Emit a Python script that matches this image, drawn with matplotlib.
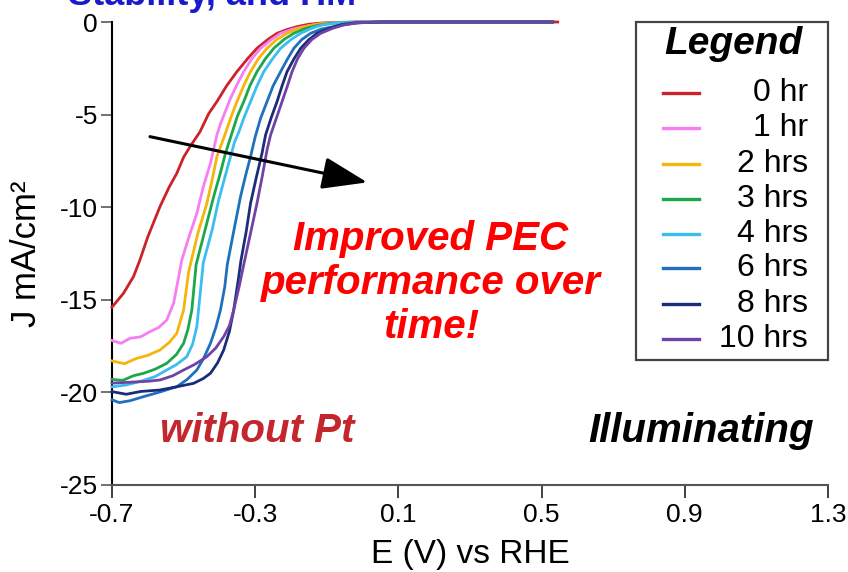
import matplotlib
matplotlib.use('Agg')
import matplotlib.pyplot as plt
from matplotlib.lines import Line2D
from matplotlib.patches import Rectangle

plt.rcParams['font.family'] = ['Liberation Sans', 'DejaVu Sans']

# ── J-V sweeps (E vs RHE in V, J in mA/cm²) ───────────────────────────
labels = ['0 hr', '1 hr', '2 hrs', '3 hrs', '4 hrs', '6 hrs', '8 hrs', '10 hrs']
colors = ['#cc2229', '#f77ef2', '#f5b50a', '#1ca84a', '#3cbdf0',
          '#1f70bd', '#1b2d78', '#7042a6']

E_0h = [-0.700, -0.668, -0.640, -0.622, -0.600, -0.566, -0.540, -0.519, -0.500,
        -0.482, -0.454, -0.430, -0.407, -0.380, -0.351, -0.320, -0.295, -0.265,
        -0.239, -0.210, -0.183, -0.150, -0.110, -0.060, 0.0, 0.2, 0.4, 0.545]
J_0h = [-15.40, -14.65, -13.75, -12.85, -11.60, -9.97, -8.90, -8.17, -7.30,
        -6.73, -5.92, -4.95, -4.30, -3.45, -2.68, -1.95, -1.42, -0.95,
        -0.61, -0.40, -0.25, -0.12, -0.05, -0.02, 0.0, 0.0, 0.0, 0.0]

E_1h = [-0.700, -0.675, -0.650, -0.620, -0.594, -0.570, -0.547, -0.528, -0.519,
        -0.505, -0.485, -0.463, -0.445, -0.425, -0.407, -0.397, -0.369, -0.350,
        -0.332, -0.310, -0.285, -0.255, -0.229, -0.195, -0.164, -0.130, -0.099,
        -0.050, 0.0, 0.2, 0.4, 0.53]
J_1h = [-17.20, -17.35, -17.08, -17.00, -16.72, -16.50, -16.09, -15.19, -14.29,
        -12.85, -11.60, -10.33, -8.90, -7.63, -6.10, -5.50, -4.12, -3.35,
        -2.68, -2.00, -1.42, -0.95, -0.61, -0.38, -0.25, -0.13, -0.07,
        -0.02, 0.0, 0.0, 0.0, 0.0]

E_2h = [-0.700, -0.665, -0.631, -0.600, -0.566, -0.540, -0.519, -0.500, -0.486,
        -0.460, -0.435, -0.420, -0.407, -0.383, -0.365, -0.351, -0.330, -0.313,
        -0.290, -0.267, -0.240, -0.211, -0.180, -0.150, -0.110, -0.060,
        0.0, 0.2, 0.4, 0.53]
J_2h = [-18.30, -18.45, -18.16, -18.00, -17.71, -17.30, -16.81, -15.55, -13.50,
        -11.40, -9.79, -8.50, -7.27, -6.00, -5.00, -4.30, -3.35, -2.68,
        -1.95, -1.42, -0.95, -0.61, -0.35, -0.20, -0.08, -0.02,
        0.0, 0.0, 0.0, 0.0]

E_3h = [-0.700, -0.670, -0.640, -0.612, -0.580, -0.547, -0.520, -0.500, -0.488,
        -0.477, -0.465, -0.441, -0.416, -0.398, -0.383, -0.365, -0.350, -0.332,
        -0.315, -0.295, -0.272, -0.248, -0.220, -0.192, -0.160, -0.130, -0.090,
        -0.040, 0.0, 0.2, 0.4, 0.53]
J_3h = [-19.30, -19.35, -19.10, -18.97, -18.75, -18.43, -17.95, -17.35, -16.60,
        -15.55, -13.10, -11.30, -9.43, -8.20, -7.09, -6.00, -5.10, -4.30,
        -3.45, -2.68, -2.00, -1.42, -0.95, -0.61, -0.35, -0.20, -0.07,
        -0.02, 0.0, 0.0, 0.0, 0.0]

E_4h = [-0.700, -0.660, -0.620, -0.580, -0.547, -0.520, -0.491, -0.475, -0.463,
        -0.445, -0.420, -0.402, -0.385, -0.369, -0.358, -0.346, -0.330, -0.313,
        -0.295, -0.276, -0.252, -0.229, -0.200, -0.173, -0.140, -0.110, -0.070,
        -0.020, 0.0, 0.2, 0.4, 0.53]
J_4h = [-19.70, -19.60, -19.40, -19.15, -18.79, -18.50, -18.07, -17.40, -16.45,
        -13.00, -11.20, -9.61, -8.40, -7.27, -6.50, -5.95, -5.10, -4.30,
        -3.45, -2.68, -2.00, -1.42, -0.95, -0.61, -0.32, -0.15, -0.05,
        -0.01, 0.0, 0.0, 0.0, 0.0]

E_6h = [-0.700, -0.680, -0.650, -0.612, -0.570, -0.519, -0.490, -0.463, -0.445,
        -0.425, -0.410, -0.397, -0.385, -0.378, -0.360, -0.341, -0.327, -0.313,
        -0.300, -0.285, -0.267, -0.250, -0.229, -0.210, -0.192, -0.170, -0.145,
        -0.115, -0.080, -0.050, -0.010, 0.05, 0.2, 0.4, 0.53]
J_6h = [-20.40, -20.55, -20.45, -20.23, -20.00, -19.69, -19.30, -18.79, -18.20,
        -17.35, -16.50, -15.55, -14.30, -13.10, -11.30, -9.43, -8.30, -7.27,
        -6.20, -5.20, -4.30, -3.45, -2.68, -2.00, -1.42, -0.95, -0.61,
        -0.38, -0.25, -0.10, -0.03, 0.0, 0.0, 0.0, 0.0]

E_8h = [-0.700, -0.660, -0.620, -0.566, -0.520, -0.472, -0.445, -0.425, -0.405,
        -0.388, -0.372, -0.360, -0.346, -0.340, -0.325, -0.313, -0.297, -0.281,
        -0.271, -0.255, -0.239, -0.225, -0.211, -0.192, -0.173, -0.150, -0.127,
        -0.095, -0.060, -0.020, 0.05, 0.2, 0.4, 0.53]
J_8h = [-19.96, -20.10, -19.95, -19.87, -19.70, -19.51, -19.25, -18.97, -18.40,
        -17.71, -16.70, -15.55, -13.75, -12.90, -11.30, -9.79, -8.40, -7.09,
        -6.10, -5.15, -4.30, -3.45, -2.68, -2.00, -1.42, -0.95, -0.61,
        -0.35, -0.15, -0.05, 0.0, 0.0, 0.0, 0.0]

E_10h = [-0.700, -0.650, -0.600, -0.566, -0.530, -0.500, -0.470, -0.435, -0.410,
         -0.388, -0.372, -0.360, -0.345, -0.332, -0.313, -0.295, -0.280, -0.267,
         -0.257, -0.241, -0.225, -0.210, -0.197, -0.182, -0.164, -0.142, -0.117,
         -0.085, -0.052, -0.010, 0.05, 0.2, 0.4, 0.53]
J_10h = [-19.50, -19.45, -19.40, -19.33, -19.10, -18.79, -18.50, -18.07, -17.60,
         -16.99, -16.40, -15.55, -14.30, -13.10, -11.40, -9.79, -8.30, -6.91,
         -6.10, -5.20, -4.30, -3.45, -2.68, -2.00, -1.42, -0.95, -0.61,
         -0.35, -0.16, -0.04, 0.0, 0.0, 0.0, 0.0]

E_sets = [E_0h, E_1h, E_2h, E_3h, E_4h, E_6h, E_8h, E_10h]
J_sets = [J_0h, J_1h, J_2h, J_3h, J_4h, J_6h, J_8h, J_10h]

x_ticks = [-0.7, -0.3, 0.1, 0.5, 0.9, 1.3]
y_ticks = [0, -5, -10, -15, -20, -25]

# ── Figure ────────────────────────────────────────────────────────────
W, H = 848, 572
fig = plt.figure(figsize=(W / 100, H / 100), dpi=100)
fig.patch.set_facecolor('white')


def px(x, y):
    """pixel position -> figure fraction"""
    return x / W, 1 - y / H


ax = fig.add_axes([112 / W, 1 - 485 / H, (828 - 112) / W, (485 - 22) / H])

for E, J, c in zip(E_sets, J_sets, colors):
    ax.plot(E, J, color=c, lw=2.0, clip_on=False, zorder=3,
            solid_joinstyle='round')

ax.set_xlim(-0.7, 1.3)
ax.set_ylim(-25, 0)
ax.set_xticks(x_ticks)
ax.set_xticklabels([f'{v:.1f}' for v in x_ticks])
ax.set_yticks(y_ticks)
ax.set_yticklabels([str(v) for v in y_ticks])

ax.tick_params(axis='x', direction='out', length=9, width=1.3,
               color='#333', labelsize=19, pad=4)
ax.tick_params(axis='y', direction='out', length=8, width=1.3,
               color='#666', labelsize=19, pad=2)

for s in ('top', 'right'):
    ax.spines[s].set_visible(False)
ax.spines['left'].set_color('black')
ax.spines['left'].set_linewidth(1.5)
ax.spines['bottom'].set_color('#555')
ax.spines['bottom'].set_linewidth(1.5)

ax.set_xlabel('E (V) vs RHE', fontsize=24)
ax.xaxis.label.set_va('center')
ax.xaxis.set_label_coords(0.5, -0.151)
ax.set_ylabel('J mA/cm²', fontsize=25)
ax.yaxis.label.set_va('center')
ax.yaxis.set_label_coords(-0.12, 0.5)

# trend arrow
ax.annotate('', xy=(0.013, -8.66), xytext=(-0.594, -6.19),
            arrowprops=dict(arrowstyle='-|>,head_length=1.4,head_width=0.5',
                            color='black', lw=2.2, mutation_scale=20,
                            shrinkA=0, shrinkB=0), zorder=5)

ax.text(0.191, -14.1, 'Improved PEC\nperformance over\ntime!', color='#ff0000',
        fontsize=29, fontweight='bold', fontstyle='italic',
        ha='center', va='center', linespacing=1.2)
ax.text(-0.566, -22.1, 'without Pt', color='#c4262e', fontsize=29,
        fontweight='bold', fontstyle='italic', ha='left', va='center')
ax.text(1.261, -22.1, 'Illuminating', color='black', fontsize=29,
        fontweight='bold', fontstyle='italic', ha='right', va='center')

# ── Legend box ────────────────────────────────────────────────────────
x0, y0 = px(636, 360)
x1, y1 = px(828, 22)
fig.patches.append(Rectangle((x0, y0), x1 - x0, y1 - y0, transform=fig.transFigure,
                             facecolor='white', edgecolor='#444', lw=1.6, zorder=4))
fig.text(*px(733, 44), 'Legend', fontsize=28, fontweight='bold',
         fontstyle='italic', ha='center', va='center', zorder=6)
row_y = [93, 128, 164, 199, 234, 268, 304, 339]
for lab, c, ry in zip(labels, colors, row_y):
    ka, kb = px(663, ry), px(699, ry)
    fig.add_artist(Line2D([ka[0], kb[0]], [ka[1], kb[1]], color=c, lw=2.4,
                          transform=fig.transFigure, zorder=6))
    fig.text(*px(808, ry), lab, fontsize=23, ha='right', va='center', zorder=6)

# heading running off the top edge
fig.text(*px(356, 5), 'Stability, and HM', color='#1a1acc', fontsize=26,
         fontweight='bold', ha='right', va='baseline')

plt.savefig('out.png', dpi=100, facecolor='white')
